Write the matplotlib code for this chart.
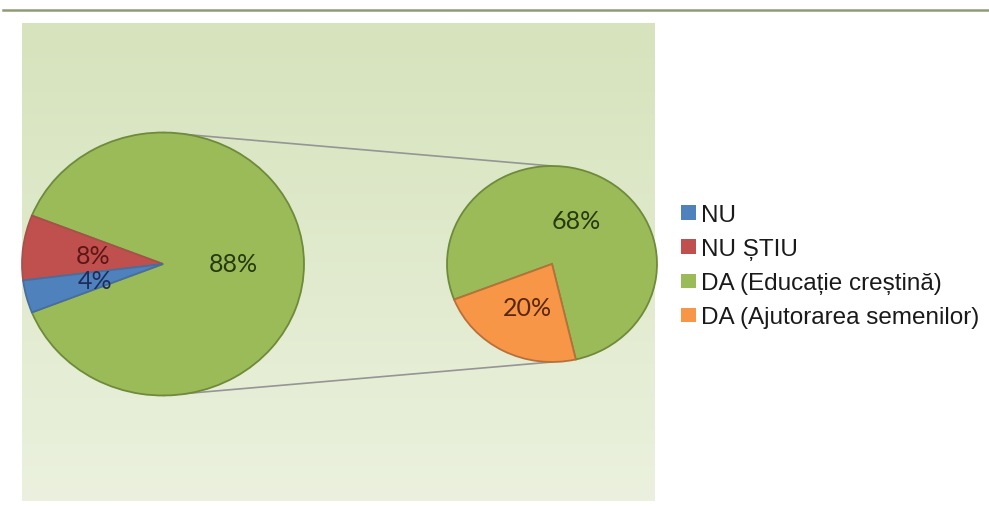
import numpy as np
import matplotlib
matplotlib.use('Agg')
import matplotlib.pyplot as plt
from matplotlib.colors import LinearSegmentedColormap
from matplotlib.patches import ConnectionPatch, Patch
from matplotlib.lines import Line2D

# Answers (percent of all respondents)
main_labels = ['DA', 'NU ȘTIU', 'NU']
main_values = [88, 8, 4]
# Breakdown of the "DA" answers
detail_labels = ['DA (Educație creștină)', 'DA (Ajutorarea semenilor)']
detail_values = [68, 20]

legend_labels = ['NU', 'NU ȘTIU', 'DA (Educație creștină)', 'DA (Ajutorarea semenilor)']

blue, red, green, orange = '#4f81bd', '#c0504d', '#9bbb59', '#f79646'
edge = {'blue': '#466f9f', 'red': '#a8504c', 'green': '#6e8a3a', 'orange': '#b8703a'}
label_col = {'blue': '#1c2d5c', 'red': '#5c1616', 'green': '#27390d', 'orange': '#5a260a'}

W, H = 989, 510
fig = plt.figure(figsize=(W / 100, H / 100), dpi=100)


def px_axes(x0, y0, x1, y1, **kw):
    # axes from pixel box (top-left origin)
    return fig.add_axes([x0 / W, 1 - y1 / H, (x1 - x0) / W, (y1 - y0) / H], **kw)


# thin rule across the top
fig.add_artist(Line2D([3 / W, 1], [1 - 11 / H] * 2, color='#8e9c76', lw=1.8))

# gradient panel behind the chart
bg = px_axes(22, 24, 655, 502)
bg.set_zorder(0)
grad = np.linspace(0, 1, 256).reshape(-1, 1)
cmap = LinearSegmentedColormap.from_list('panel', ['#d6e3bc', '#ebf1de'])
bg.imshow(grad, aspect='auto', cmap=cmap, extent=(0, 1, 0, 1), origin='upper')
bg.axis('off')

# main pie
ax1 = px_axes(22, 133.5, 304, 396.5)
ax1.set_zorder(2)
ax1.patch.set_visible(False)
w1, _, t1 = ax1.pie(main_values, colors=[green, red, blue], startangle=-158.4,
                    autopct='%1.0f%%', pctdistance=0.5,
                    wedgeprops=dict(linewidth=1.3),
                    textprops=dict(family='Lato', fontsize=18))
for w, k in zip(w1, ['green', 'red', 'blue']):
    w.set_edgecolor(edge[k])
    w.set_clip_on(False)
for t, k in zip(t1, ['green', 'red', 'blue']):
    t.set_color(label_col[k])
ax1.set_xlim(-1, 1)
ax1.set_ylim(-1, 1)
ax1.set_aspect('auto')

# secondary pie with the split of "DA"
ax2 = px_axes(447, 167, 657, 363)
ax2.set_zorder(2)
ax2.patch.set_visible(False)
total = sum(detail_values)
w2, _, t2 = ax2.pie(detail_values, colors=[green, orange], startangle=-76.9,
                    autopct=lambda p: f'{p * total / 100:.0f}%', pctdistance=0.5,
                    wedgeprops=dict(linewidth=1.3),
                    textprops=dict(family='Lato', fontsize=18))
for w, k in zip(w2, ['green', 'orange']):
    w.set_edgecolor(edge[k])
    w.set_clip_on(False)
for t, k in zip(t2, ['green', 'orange']):
    t.set_color(label_col[k])
ax2.set_xlim(-1, 1)
ax2.set_ylim(-1, 1)
ax2.set_aspect('auto')

# connector lines between the two pies
for y in (1, -1):
    con = ConnectionPatch(xyA=(0, y), coordsA=ax1.transData,
                          xyB=(0, y), coordsB=ax2.transData,
                          color='#959595', lw=1.2)
    con.set_zorder(1)
    fig.add_artist(con)

handles = [Patch(facecolor=c, edgecolor='none') for c in (blue, red, green, orange)]
fig.legend(handles, legend_labels, loc='upper left',
           bbox_to_anchor=(681 / W, 1 - 205 / H), frameon=False,
           prop=dict(family='Liberation Sans', size=17.5),
           handlelength=0.62, handleheight=0.53, handletextpad=0.22,
           labelspacing=0.5, borderpad=0, borderaxespad=0, labelcolor='#1a1a1a')

fig.savefig('out.png', dpi=100)
